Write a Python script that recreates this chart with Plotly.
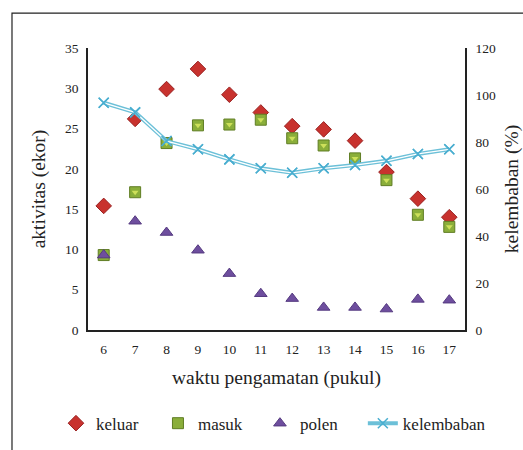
import plotly.graph_objects as go

# Observation hours
jam = [6, 7, 8, 9, 10, 11, 12, 13, 14, 15, 16, 17]

# Bee activity counts (ekor)
keluar = [15.4, 26.2, 29.9, 32.4, 29.2, 27.0, 25.3, 24.9, 23.5, 19.6, 16.3, 14.0]
masuk = [9.3, 17.1, 23.2, 25.4, 25.5, 26.1, 23.8, 22.9, 21.3, 18.6, 14.3, 12.8]
polen = [9.3, 13.5, 12.1, 9.9, 7.0, 4.5, 3.9, 2.8, 2.8, 2.6, 3.8, 3.7]

# Relative humidity (%)
kelembaban = [96.7, 92.6, 80.4, 76.9, 72.6, 68.8, 66.9, 68.8, 70.2, 72.0, 74.9, 76.9]

FONT = "Liberation Serif"
INK = "#222"


def serif(size):
    return dict(family=FONT, size=size, color=INK)


fig = go.Figure()

fig.add_trace(go.Scatter(
    x=jam, y=keluar, name="keluar", mode="markers",
    marker=dict(symbol="diamond", size=12, color="#c8322e",
                line=dict(color="#9a2222", width=1)),
))
fig.add_trace(go.Scatter(
    x=jam, y=masuk, name="masuk", mode="markers",
    marker=dict(symbol="square", size=11, color="#8aae3a",
                line=dict(color="#5f7d24", width=1)),
))
# lighter bevel inside the masuk squares
fig.add_trace(go.Scatter(
    x=jam, y=masuk, mode="markers", showlegend=False, hoverinfo="skip",
    marker=dict(symbol="triangle-down", size=6, color="#cde05a",
                line=dict(width=0)),
))
fig.add_trace(go.Scatter(
    x=jam, y=polen, name="polen", mode="markers",
    marker=dict(symbol="triangle-up", size=11, color="#6e4e9e",
                line=dict(color="#553a80", width=1)),
))
# humidity: double line (outer blue, inner white core), own legend box
fig.add_trace(go.Scatter(
    x=jam, y=kelembaban, name="kelembaban", mode="lines+markers", yaxis="y2",
    legend="legend2",
    line=dict(color="#6cc0d8", width=4),
    marker=dict(symbol="x-thin", size=10, color="#4aaed0",
                line=dict(color="#4aaed0", width=1.5)),
))
fig.add_trace(go.Scatter(
    x=jam, y=kelembaban, mode="lines", yaxis="y2", showlegend=False,
    hoverinfo="skip", line=dict(color="white", width=1.3),
))
fig.add_trace(go.Scatter(
    x=jam, y=kelembaban, mode="markers", yaxis="y2", showlegend=False,
    hoverinfo="skip",
    marker=dict(symbol="x-thin", size=10, color="#4aaed0",
                line=dict(color="#4aaed0", width=1.5)),
))

# outer chart frame (left and top edges)
fig.add_shape(type="path", xref="paper", yref="paper",
              path="M -0.2016 -0.45 L -0.2016 1.124 L 1.2 1.124",
              line=dict(color=INK, width=1.2), layer="below")

fig.update_layout(
    width=523, height=450,
    margin=dict(l=88, r=58, t=48, b=120, autoexpand=False),
    paper_bgcolor="white", plot_bgcolor="white",
    font=serif(14),
    showlegend=True,
    legend=dict(orientation="h", x=-0.085, xanchor="left", y=-0.332,
                yanchor="middle", font=serif(17),
                itemwidth=30, entrywidth=57, entrywidthmode="pixels",
                tracegroupgap=0),
    legend2=dict(orientation="h", x=0.729, xanchor="left", y=-0.332,
                 yanchor="middle", font=serif(17), itemwidth=30),
    xaxis=dict(range=[5.5, 17.5], tickmode="array", tickvals=jam,
               ticktext=[str(j) for j in jam], showgrid=False,
               zeroline=False, showline=True, linecolor=INK,
               linewidth=1.5, ticks="", tickfont=serif(13.5),
               ticklabelstandoff=6,
               title=dict(text="waktu pengamatan (pukul)",
                          font=serif(19.5), standoff=14)),
    yaxis=dict(range=[0, 35], dtick=5, showgrid=False, zeroline=False,
               showline=True, linecolor=INK, linewidth=1.5, ticks="",
               tickfont=serif(13.5), ticklabelstandoff=5,
               title=dict(text="aktivitas (ekor)", font=serif(19.5),
                          standoff=14)),
    yaxis2=dict(range=[0, 120], dtick=20, overlaying="y", side="right",
                showgrid=False, zeroline=False, showline=True,
                linecolor=INK, linewidth=1.5, ticks="",
                tickfont=serif(13.5), ticklabelstandoff=6,
                title=dict(text="kelembaban (%)", font=serif(19.5),
                           standoff=37)),
)

fig.write_html("out.html")
